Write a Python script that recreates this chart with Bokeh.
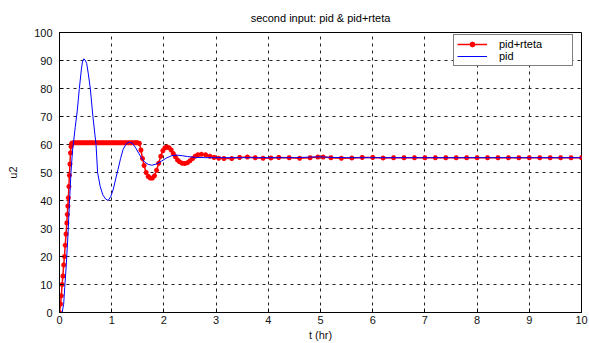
from bokeh.plotting import figure
from bokeh.models import Range1d, FixedTicker, Legend, LegendItem
from bokeh.embed import file_html
from bokeh.resources import INLINE

title_text = "second input: pid & pid+rteta"
x_label = "t (hr)"
y_label = "u2"
x_ticks = [0, 1, 2, 3, 4, 5, 6, 7, 8, 9, 10]
y_ticks = [0, 10, 20, 30, 40, 50, 60, 70, 80, 90, 100]

# pid (blue) response
pid_t = [0.00, 0.05, 0.08, 0.10, 0.13, 0.16, 0.19, 0.22, 0.25, 0.27, 0.30, 0.34, 0.38,
         0.42, 0.44, 0.465, 0.49, 0.52, 0.55, 0.59, 0.64, 0.70, 0.73, 0.78, 0.83, 0.88,
         0.93, 0.98, 1.03, 1.08, 1.12, 1.17, 1.22, 1.28, 1.34, 1.40, 1.46, 1.52, 1.58,
         1.64, 1.70, 1.77, 1.85, 1.95, 2.05, 2.15, 2.25, 2.35, 2.45, 2.60, 2.80, 3.00,
         3.50, 4.00, 4.50, 4.80, 5.00, 5.20, 5.50, 6.00, 7.00, 8.00, 9.00, 10.00]
pid_u = [0.0, 0.0, 3.0, 9.0, 17.0, 27.0, 39.0, 50.0, 58.0, 61.0, 66.0, 72.0, 80.0,
         87.0, 89.5, 90.6, 90.2, 89.0, 85.5, 80.0, 70.0, 60.0, 50.0, 45.0, 42.0, 40.6,
         40.0, 41.3, 44.0, 48.0, 51.0, 55.0, 58.3, 60.3, 60.9, 60.4, 58.8, 56.8, 54.9,
         53.6, 52.9, 52.6, 53.0, 54.0, 55.2, 56.0, 56.2, 56.0, 55.7, 55.4, 55.3, 55.3,
         55.3, 55.3, 55.3, 55.5, 55.6, 55.4, 55.3, 55.3, 55.3, 55.3, 55.3, 55.3]

# pid+rteta (red) response
rteta_t = [0.00, 0.02, 0.035, 0.05, 0.065, 0.08, 0.095, 0.11, 0.125, 0.14, 0.15, 0.16,
           0.17, 0.18, 0.19, 0.20, 0.21, 0.22, 0.23, 0.24,
           0.27, 0.30, 0.33, 0.36, 0.39, 0.42, 0.45, 0.48, 0.51, 0.54, 0.57, 0.60,
           0.63, 0.66, 0.69, 0.72, 0.75, 0.78, 0.81, 0.84, 0.87, 0.90, 0.93, 0.96,
           0.99, 1.02, 1.05, 1.08, 1.11, 1.14, 1.17, 1.20, 1.23, 1.26, 1.29, 1.32,
           1.35, 1.38, 1.41, 1.44, 1.47, 1.50, 1.53,
           1.56, 1.59, 1.62, 1.66, 1.70, 1.74, 1.78, 1.82, 1.86, 1.90, 1.94, 1.98,
           2.02, 2.06, 2.10, 2.14, 2.18, 2.22, 2.26, 2.30, 2.35, 2.40, 2.45, 2.50,
           2.55, 2.60, 2.65, 2.72, 2.80, 2.88, 2.96, 3.05, 3.15, 3.30, 3.45, 3.60,
           3.75, 3.90, 4.05, 4.20, 4.40, 4.60, 4.80, 4.95, 5.05, 5.20, 5.40, 5.60,
           5.80, 6.00, 6.20, 6.40, 6.60, 6.80, 7.00, 7.20, 7.40, 7.60, 7.80, 8.00,
           8.20, 8.40, 8.60, 8.80, 9.00, 9.20, 9.40, 9.60, 9.80, 10.00]
rteta_u = [0.0, 3.0, 6.0, 10.0, 13.0, 17.0, 20.0, 24.0, 28.0, 32.0, 35.0, 38.0,
           41.0, 45.0, 49.0, 53.0, 57.0, 59.3, 60.2, 60.5,
           60.6, 60.6, 60.6, 60.6, 60.6, 60.6, 60.6, 60.6, 60.6, 60.6, 60.6, 60.6,
           60.6, 60.6, 60.6, 60.6, 60.6, 60.6, 60.6, 60.6, 60.6, 60.6, 60.6, 60.6,
           60.6, 60.6, 60.6, 60.6, 60.6, 60.6, 60.6, 60.6, 60.6, 60.6, 60.6, 60.6,
           60.6, 60.6, 60.6, 60.6, 60.6, 60.6, 60.4,
           58.0, 55.0, 52.5, 50.0, 48.6, 48.0, 48.0, 48.8, 50.8, 53.3, 55.8, 57.8,
           58.8, 59.1, 58.8, 58.0, 56.8, 55.6, 54.5, 53.8, 53.3, 53.2, 53.5, 54.2,
           55.0, 55.8, 56.3, 56.5, 56.3, 55.8, 55.4, 55.1, 55.0, 55.0, 55.4, 55.5,
           55.3, 55.1, 55.2, 55.4, 55.3, 55.1, 55.3, 55.5, 55.5, 55.3, 55.1, 55.2,
           55.4, 55.4, 55.2, 55.3, 55.3, 55.3, 55.3, 55.3, 55.3, 55.3, 55.3, 55.3,
           55.3, 55.3, 55.3, 55.3, 55.3, 55.3, 55.3, 55.3, 55.3, 55.3]

FONT = "Liberation Sans"

p = figure(width=589, height=343, output_backend="svg", toolbar_location=None,
           x_range=Range1d(0, 10), y_range=Range1d(0, 100),
           min_border_left=59, min_border_right=8, min_border_top=32, min_border_bottom=30)

p.title.text = title_text
p.title.align = "center"
p.title.text_font = FONT
p.title.text_font_size = "11px"
p.title.text_font_style = "normal"
p.title.text_color = "#000000"
p.title.standoff = 18

p.outline_line_color = "black"
p.outline_line_width = 1
p.background_fill_color = "white"
p.border_fill_color = "white"

for ax in (p.xaxis[0], p.yaxis[0]):
    ax.axis_line_color = "black"
    ax.major_tick_in = 4
    ax.major_tick_out = 0
    ax.minor_tick_line_color = None
    ax.major_tick_line_color = "black"
    ax.major_label_text_font = FONT
    ax.major_label_text_font_size = "11px"
    ax.major_label_text_color = "#111111"
    ax.axis_label_text_font = FONT
    ax.axis_label_text_font_size = "11px"
    ax.axis_label_text_font_style = "normal"
    ax.axis_label_text_color = "#111111"

p.xaxis.ticker = FixedTicker(ticks=x_ticks)
p.yaxis.ticker = FixedTicker(ticks=y_ticks)
p.xaxis.axis_label = x_label
p.yaxis.axis_label = y_label
p.xaxis.major_label_standoff = 3
p.xaxis.axis_label_standoff = 2
p.yaxis.major_label_standoff = 7
p.yaxis.axis_label_standoff = 12

p.xgrid[0].ticker = FixedTicker(ticks=x_ticks)
p.ygrid[0].ticker = FixedTicker(ticks=y_ticks)
for g in (p.xgrid[0], p.ygrid[0]):
    g.grid_line_color = "#222222"
    g.grid_line_dash = "3 4"
    g.grid_line_width = 1

r_line = p.line(rteta_t, rteta_u, line_color="#ff0000", line_width=1.5)
r_mark = p.scatter(rteta_t, rteta_u, marker="asterisk", size=5, line_color="#ff0000", line_width=1.5)
r_dot = p.scatter(rteta_t, rteta_u, marker="circle", size=2.5, fill_color="#ff0000", line_color="#ff0000")
b_line = p.line(pid_t, pid_u, line_color="#0000ff", line_width=1)

legend = Legend(items=[
    LegendItem(label="pid+rteta", renderers=[r_line, r_dot]),
    LegendItem(label="pid", renderers=[b_line]),
], location=(394, 246))
legend.border_line_color = "black"
legend.border_line_width = 1
legend.background_fill_color = "white"
legend.background_fill_alpha = 1
legend.label_text_font = FONT
legend.label_text_font_size = "11px"
legend.label_text_color = "#000000"
legend.padding = 3
legend.spacing = 0
legend.margin = 0
legend.glyph_width = 30
legend.glyph_height = 12
legend.label_height = 12
legend.label_standoff = 12
legend.label_width = 70
p.add_layout(legend, "center")

open("out.html", "w").write(file_html(p, INLINE))
